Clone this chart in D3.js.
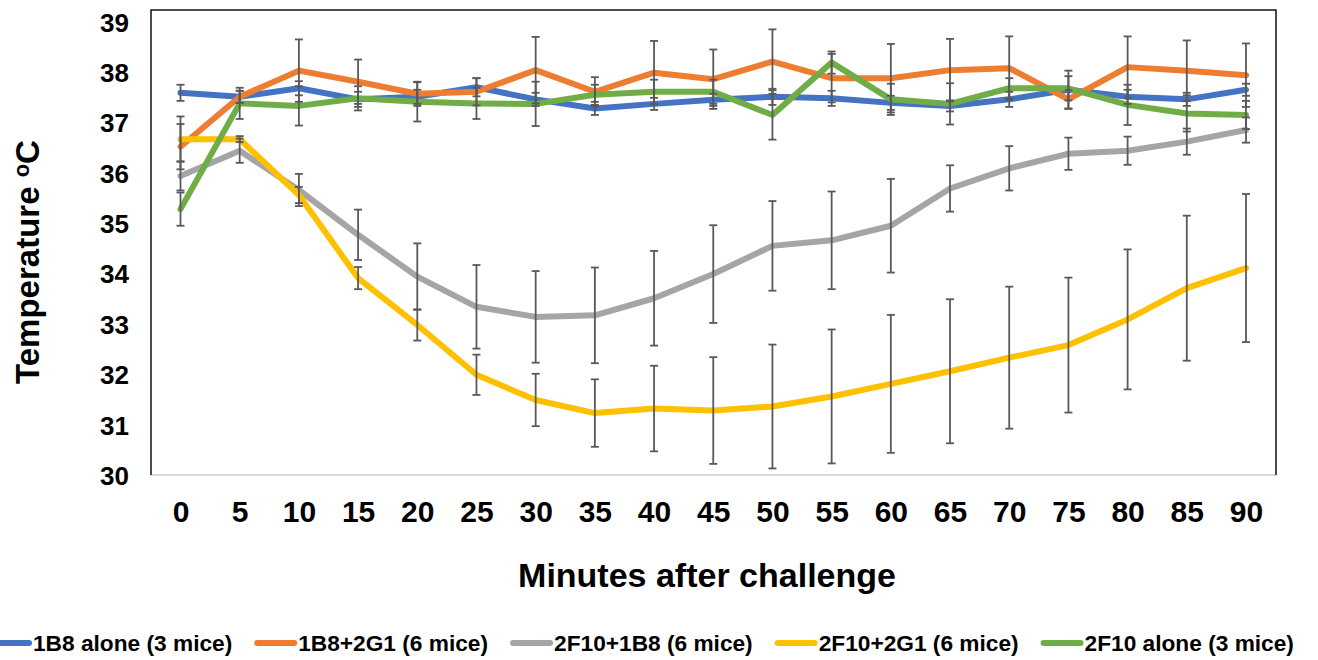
<!DOCTYPE html>
<html>
<head>
<meta charset="utf-8">
<script src="https://cdn.jsdelivr.net/npm/d3@7"></script>
<style>
  html, body { margin: 0; padding: 0; background: #fff; }
  svg { display: block; font-family: "Liberation Sans", Arial, sans-serif; font-weight: bold; }
</style>
</head>
<body>
<svg id="chart" width="1318" height="660"></svg>
<script>
// ---- data ----
const minutes = [0,5,10,15,20,25,30,35,40,45,50,55,60,65,70,75,80,85,90];
const yTicks = [30,31,32,33,34,35,36,37,38,39];
const seriesNames = ["1B8 alone (3 mice)", "1B8+2G1 (6 mice)", "2F10+1B8 (6 mice)", "2F10+2G1 (6 mice)", "2F10 alone (3 mice)"];
const seriesColors = ["#4472C4", "#ED7D31", "#A5A5A5", "#FFC000", "#70AD47"];

const blue   = [37.59,37.51,37.68,37.46,37.51,37.70,37.46,37.28,37.37,37.45,37.51,37.48,37.39,37.33,37.46,37.65,37.51,37.46,37.65];
const orange = [36.52,37.51,38.03,37.81,37.57,37.61,38.04,37.61,37.99,37.86,38.21,37.88,37.88,38.04,38.08,37.46,38.10,38.03,37.94];
const gray   = [35.94,36.44,35.66,34.77,33.94,33.34,33.14,33.17,33.51,33.99,34.55,34.66,34.95,35.69,36.09,36.38,36.44,36.62,36.85];
const yellow = [36.67,36.67,35.56,33.91,32.98,31.99,31.49,31.23,31.32,31.28,31.36,31.56,31.81,32.06,32.33,32.58,33.09,33.71,34.11];
const green  = [35.28,37.38,37.33,37.48,37.41,37.38,37.37,37.55,37.61,37.61,37.15,38.19,37.46,37.37,37.68,37.68,37.35,37.18,37.15];

const blueErr   = [0.16,0.12,0.14,0.15,0.14,0.18,0.13,0.13,0.12,0.12,0.16,0.15,0.14,0.11,0.15,0.38,0.14,0.13,0.12];
const orangeErr = [0.45,0.12,0.62,0.44,0.24,0.27,0.66,0.29,0.63,0.59,0.64,0.48,0.68,0.62,0.63,0.18,0.61,0.60,0.63];
const grayErr   = [0.29,0.24,0.32,0.50,0.66,0.83,0.91,0.95,0.94,0.97,0.89,0.97,0.93,0.46,0.44,0.32,0.28,0.26,0.25];
const yellowErr = [0.45,0.06,0.16,0.22,0.31,0.40,0.52,0.67,0.85,1.06,1.23,1.33,1.37,1.43,1.41,1.34,1.39,1.44,1.47];
const greenErr  = [0.33,0.31,0.39,0.24,0.39,0.31,0.44,0.20,0.24,0.24,0.49,0.22,0.31,0.41,0.20,0.24,0.40,0.36,0.28];

const xTitle = "Minutes after challenge";
const yTitle = "Temperature ";

const values = [blue, orange, gray, yellow, green];
const errors = [blueErr, orangeErr, grayErr, yellowErr, greenErr];
const series = seriesNames.map((name, i) => ({
  name, color: seriesColors[i],
  points: minutes.map((m, j) => ({ m, v: values[i][j], e: errors[i][j] }))
}));

// ---- layout ----
const svg = d3.select("#chart");
const frame = { left: 151, right: 1276, top: 10, bottom: 475 };
const x = d3.scaleLinear().domain([0, 90]).range([180.5, 1246]);
const y = d3.scaleLinear().domain([30, 39]).range([475, 21.8]);

// plot frame
svg.append("line").attr("x1", frame.left).attr("x2", frame.right).attr("y1", frame.bottom).attr("y2", frame.bottom)
  .attr("stroke", "#D9D9D9").attr("stroke-width", 2);
svg.append("path")
  .attr("d", `M${frame.left},${frame.bottom}V${frame.top}H${frame.right}V${frame.bottom}`)
  .attr("fill", "none").attr("stroke", "#111").attr("stroke-width", 1.5);

// y axis labels
const yAxis = d3.axisLeft(y).tickValues(yTicks).tickSize(0).tickPadding(0).tickFormat(d3.format("d"));
const yg = svg.append("g").attr("transform", "translate(129,0)").call(yAxis);
yg.select(".domain").remove();
yg.selectAll("text").attr("font-size", 26).attr("font-weight", "bold").attr("fill", "#000")
  .attr("font-family", "Liberation Sans, Arial, sans-serif").attr("dy", "0.36em");

// x axis labels
const xAxis = d3.axisBottom(x).tickValues(minutes).tickSize(0).tickPadding(0).tickFormat(d3.format("d"));
const xg = svg.append("g").attr("transform", "translate(0,500)").call(xAxis);
xg.select(".domain").remove();
xg.selectAll("text").attr("font-size", 30).attr("font-weight", "bold").attr("fill", "#000")
  .attr("font-family", "Liberation Sans, Arial, sans-serif").attr("dy", "0.72em");

// titles
svg.append("text").attr("x", 707).attr("y", 587).attr("text-anchor", "middle")
  .attr("font-size", 34).attr("fill", "#000").text(xTitle);
const yt = svg.append("text").attr("transform", "translate(39,262) rotate(-90)").attr("text-anchor", "middle")
  .attr("font-size", 33).attr("fill", "#000");
yt.append("tspan").text(yTitle);
yt.append("tspan").attr("font-size", 22).attr("dy", -10).text("o");
yt.append("tspan").attr("dy", 10).text("C");

// lines
const line = d3.line().x(d => x(d.m)).y(d => y(d.v));
svg.append("g").selectAll("path").data(series).join("path")
  .attr("d", d => line(d.points)).attr("fill", "none")
  .attr("stroke", d => d.color).attr("stroke-width", 6)
  .attr("stroke-linejoin", "round").attr("stroke-linecap", "round");

// error bars
const eg = svg.append("g").attr("stroke", "#595959").attr("stroke-width", 1.8);
series.forEach(s => {
  s.points.forEach(p => {
    const cx = x(p.m), y1 = y(p.v + p.e), y2 = y(p.v - p.e);
    eg.append("line").attr("x1", cx).attr("x2", cx).attr("y1", y1).attr("y2", y2);
    eg.append("line").attr("x1", cx - 4).attr("x2", cx + 4).attr("y1", y1).attr("y2", y1);
    eg.append("line").attr("x1", cx - 4).attr("x2", cx + 4).attr("y1", y2).attr("y2", y2);
  });
});

// legend
const lg = svg.append("g");
let lx = -8;
const ly = 643;
series.forEach(s => {
  lg.append("line").attr("x1", lx).attr("x2", lx + 37).attr("y1", ly).attr("y2", ly)
    .attr("stroke", s.color).attr("stroke-width", 6).attr("stroke-linecap", "round");
  const t = lg.append("text").attr("x", lx + 41).attr("y", ly).attr("dy", "0.36em")
    .attr("font-size", 22.7).attr("fill", "#000").text(s.name);
  lx = lx + 41 + t.node().getComputedTextLength() + 25;
});
</script>
</body>
</html>
